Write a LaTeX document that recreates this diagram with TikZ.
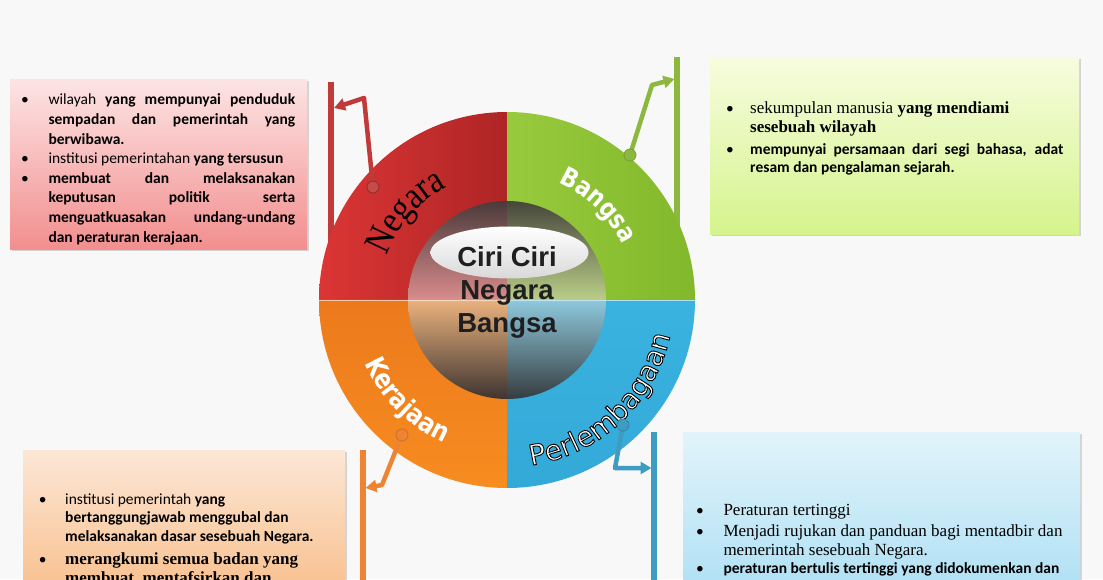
\documentclass[tikz,border=0pt]{standalone}
\usepackage{fontspec}
\setmainfont{Liberation Serif}
\newfontfamily\calfont{Carlito}
\newfontfamily\tnrfont{Liberation Serif}
\newfontfamily\tnrcond[FakeStretch=0.85]{Liberation Serif}
\newfontfamily\arlfont{Liberation Sans}
\newfontfamily\verfont{DejaVu Sans}
\newfontfamily\vercond[FakeStretch=0.85]{DejaVu Sans}
\usetikzlibrary{decorations.text, arrows.meta, shadows, calc}

\definecolor{bgc}{HTML}{F8F8F8}
\definecolor{redA}{HTML}{DC3535}
\definecolor{redB}{HTML}{AE2525}
\definecolor{grnA}{HTML}{98CA3D}
\definecolor{grnB}{HTML}{82B82B}
\definecolor{orgA}{HTML}{EC7A1C}
\definecolor{orgB}{HTML}{F78C20}
\definecolor{bluA}{HTML}{3AB3E0}
\definecolor{bluB}{HTML}{33A9D8}
\definecolor{ngc}{HTML}{C03A3A}
\definecolor{bgcn}{HTML}{8DB840}
\definecolor{krc}{HTML}{EE8433}
\definecolor{plc}{HTML}{3D9CC2}
\definecolor{tlTop}{HTML}{4A3A3A}\definecolor{tlMid}{HTML}{B46E6E}\definecolor{tlBot}{HTML}{DA8C8C}
\definecolor{trTop}{HTML}{46463A}\definecolor{trMid}{HTML}{9CB070}\definecolor{trBot}{HTML}{BACE88}
\definecolor{blTop}{HTML}{EAB27E}\definecolor{blMid}{HTML}{BC9272}\definecolor{blBot}{HTML}{3E3430}
\definecolor{brTop}{HTML}{8EC9DD}\definecolor{brMid}{HTML}{70A0B0}\definecolor{brBot}{HTML}{363C40}
\definecolor{rbTop}{HTML}{FDE4E4}\definecolor{rbBot}{HTML}{F28E8E}
\definecolor{gbTop}{HTML}{F7FCDE}\definecolor{gbBot}{HTML}{D5F48C}
\definecolor{obTop}{HTML}{FCE7D6}\definecolor{obBot}{HTML}{F8BE8A}
\definecolor{pbTop}{HTML}{E2F4FA}\definecolor{pbBot}{HTML}{ACDFF4}

\newcommand\calsz{\calfont\fontsize{15.5}{19}\selectfont}
\newcommand\tnrsz{\tnrfont\fontsize{17}{19}\selectfont}
\newcommand\jl[2]{\makebox[#1][s]{#2}}
\newcommand\negfont{\tnrcond\fontsize{38}{38}\selectfont\color{black}}
\newcommand\bgsfont{\vercond\bfseries\fontsize{26}{26}\selectfont\color{white}}
\newcommand\krjfont{\vercond\bfseries\fontsize{27}{27}\selectfont\color{white}}
\newcommand\perfont{\verfont\fontsize{28}{28}\selectfont\color{white}\special{pdf:literal direct 0 G 2 Tr 0.9 w}}

\tikzset{
  ln/.style={anchor=base west, inner sep=0pt},
  bl/.style={anchor=base, inner sep=0pt, font=\calsz},
  infobox/.style={drop shadow={opacity=0.3, shadow xshift=1.5pt, shadow yshift=-1.5pt}},
  conn/.style={line width=4.5pt, line join=round, -{Triangle[length=11pt,width=12pt]}},
  bar/.style={line width=5.5pt},
  dotc/.style={circle, minimum size=12pt, inner sep=0pt, line width=0.8pt},
}

\begin{document}
\begin{tikzpicture}[x=1pt,y=1pt]
\useasboundingbox (0,0) rectangle (1103,579);
\clip (0,0) rectangle (1103,579);
\fill[bgc] (0,0) rectangle (1103,579);
\coordinate (C) at (507,279);

% ---------- boxes ----------
\shade[infobox, top color=rbTop, bottom color=rbBot] (10,329) rectangle (307,499);
\shade[infobox, top color=gbTop, bottom color=gbBot] (710,344) rectangle (1079,521);
\shade[infobox, top color=obTop, bottom color=obBot] (23,-20) rectangle (345,129);
\shade[infobox, top color=pbTop, bottom color=pbBot] (683,-20) rectangle (1080,147);

% ---------- bars ----------
\coordinate (ngbt) at (331,497); \coordinate (ngbb) at (331,329);
\coordinate (bgbt) at (677,522); \coordinate (bgbb) at (677,344);
\coordinate (krbt) at (363,129); \coordinate (krbb) at (363,-5);
\coordinate (plbt) at (654,147); \coordinate (plbb) at (654,-5);
\draw[bar, ngc] (ngbt) -- (ngbb);
\draw[bar, bgcn] (bgbt) -- (bgbb);
\draw[bar, krc] (krbt) -- (krbb);
\draw[bar, plc] (plbt) -- (plbb);

% ---------- outer ring ----------
\shade[left color=redA, right color=redB] (C) -- ([shift={(180:188pt)}]C) arc[start angle=180, end angle=90, radius=188pt] -- cycle;
\shade[left color=grnA, right color=grnB] (C) -- ([shift={(90:188pt)}]C) arc[start angle=90, end angle=0, radius=188pt] -- cycle;
\shade[top color=orgA, bottom color=orgB] (C) -- ([shift={(180:188pt)}]C) arc[start angle=180, end angle=270, radius=188pt] -- cycle;
\shade[top color=bluA, bottom color=bluB] (C) -- ([shift={(270:188pt)}]C) arc[start angle=270, end angle=360, radius=188pt] -- cycle;
\draw[white, opacity=0.6, line width=0.8pt] ([shift={(180:188pt)}]C) -- ([shift={(0:188pt)}]C);

% ---------- inner circle ----------
\shade[top color=tlTop, middle color=tlMid, bottom color=tlBot] (C) -- ([shift={(180:99pt)}]C) arc[start angle=180, end angle=90, radius=99pt] -- cycle;
\shade[top color=trTop, middle color=trMid, bottom color=trBot] (C) -- ([shift={(90:99pt)}]C) arc[start angle=90, end angle=0, radius=99pt] -- cycle;
\shade[top color=blTop, middle color=blMid, bottom color=blBot] (C) -- ([shift={(180:99pt)}]C) arc[start angle=180, end angle=270, radius=99pt] -- cycle;
\shade[top color=brTop, middle color=brMid, bottom color=brBot] (C) -- ([shift={(270:99pt)}]C) arc[start angle=270, end angle=360, radius=99pt] -- cycle;
\draw[white, opacity=0.5, line width=0.8pt] ([shift={(180:99pt)}]C) -- ([shift={(0:99pt)}]C);
\shade[top color=white, bottom color=black!15] (509.5,326.5) ellipse [x radius=79pt, y radius=26pt];

% ---------- centre title ----------
\node[anchor=base, inner sep=0pt, font=\arlfont\bfseries\fontsize{27.5}{33}\selectfont, text=black!88] (t1) at (507,312.3) {Ciri Ciri};
\node[anchor=base, inner sep=0pt, font=\arlfont\bfseries\fontsize{27.5}{33}\selectfont, text=black!88] (t2) at (507,279.7) {Negara};
\node[anchor=base, inner sep=0pt, font=\arlfont\bfseries\fontsize{27.5}{33}\selectfont, text=black!88] (t3) at (507,246.3) {Bangsa};

% ---------- curved labels ----------
\path[decorate, decoration={text along path, text align=center, text={|\negfont|Negara}}]
  ([shift={(171:128pt)}]C) arc[start angle=171, end angle=107, radius=128pt];
\path[decorate, decoration={text along path, text align=center, text={|\bgsfont|Bangsa}}]
  ([shift={(92:128pt)}]C) arc[start angle=92, end angle=0, radius=128pt];
\path[decorate, decoration={text along path, text align=center, text={|\krjfont|Kerajaan}}]
  ([shift={(180:156pt)}]C) arc[start angle=180, end angle=270, radius=156pt];
\path[decorate, decoration={text along path, text align=center, text={|\perfont|Perlembagaan}}]
  ([shift={(250:167pt)}]C) arc[start angle=250, end angle=376, radius=167pt];

% ---------- connectors ----------
\coordinate (ngd) at (373,392);
\coordinate (ngbend) at (364,481);
\coordinate (ngtip) at (334,471);
\draw[conn, ngc] (ngd) -- (ngbend) -- (ngtip);
\node[dotc, fill=ngc!92!white, draw=ngc!75!black] (ngdot) at (ngd) {};

\coordinate (bgd) at (630,424);
\coordinate (bgbend) at (652,494);
\coordinate (bgtip) at (674.5,500);
\draw[conn, bgcn] (bgd) -- (bgbend) -- (bgtip);
\node[dotc, fill=bgcn, draw=bgcn!85!black] (bgdot) at (bgd) {};

\coordinate (krd) at (402,144);
\coordinate (krbend) at (382,94);
\coordinate (krtip) at (365.5,91);
\draw[conn, krc] (krd) -- (krbend) -- (krtip);
\node[dotc, fill=krc, draw=krc!85!black] (krdot) at (krd) {};

\coordinate (pld) at (623,154);
\coordinate (plbend) at (615,111);
\coordinate (pltip) at (651.5,111);
\draw[conn, plc] (pld) -- (plbend) -- (pltip);
\node[dotc, fill=plc, draw=plc!85!black] (pldot) at (pld) {};

% ---------- red box text ----------
\begin{scope}[every node/.append style={font=\calsz, text=black}]
\node[bl] (rb1) at (25,474) {•};
\node[ln] (r1) at (48.3,474) {\jl{246.7pt}{wilayah \textbf{yang mempunyai penduduk}}};
\node[ln] (r2) at (48.3,454.4) {\jl{246.7pt}{\textbf{sempadan dan pemerintah yang}}};
\node[ln] (r3) at (48.3,434.8) {\textbf{berwibawa.}};
\node[bl] (rb2) at (25,415.2) {•};
\node[ln] (r4) at (48.3,415.2) {institusi pemerintahan \textbf{yang tersusun}};
\node[bl] (rb3) at (25,395.6) {•};
\node[ln] (r5) at (48.3,395.6) {\jl{246.7pt}{\textbf{membuat dan melaksanakan}}};
\node[ln] (r6) at (48.3,376) {\jl{246.7pt}{\textbf{keputusan politik serta}}};
\node[ln] (r7) at (48.3,356.4) {\jl{246.7pt}{\textbf{menguatkuasakan undang-undang}}};
\node[ln] (r8) at (48.3,336.8) {\textbf{dan peraturan kerajaan.}};
\end{scope}

% ---------- green box text ----------
\node[bl] (gb1) at (730,465) {•};
\node[ln, font=\tnrsz] (g1) at (750,465) {sekumpulan manusia \textbf{yang mendiami}};
\node[ln, font=\tnrsz] (g2) at (750,446.3) {\textbf{sesebuah wilayah}};
\node[bl] (gb2) at (730,424) {•};
\node[ln, font=\calsz] (g3) at (750,424) {\jl{313.3pt}{\textbf{mempunyai persamaan dari segi bahasa, adat}}};
\node[ln, font=\calsz] (g4) at (750,406.3) {\textbf{resam dan pengalaman sejarah.}};

% ---------- orange box text ----------
\node[bl] (ob1) at (42.7,75) {•};
\node[ln, font=\calsz] (o1) at (65,75) {institusi pemerintah \textbf{yang}};
\node[ln, font=\calsz] (o2) at (65,56.3) {\textbf{bertanggungjawab menggubal dan}};
\node[ln, font=\calsz] (o3) at (65,37.3) {\textbf{melaksanakan dasar sesebuah Negara.}};
\node[bl] (ob2) at (42.7,15) {•};
\node[ln, font=\tnrsz] (o4) at (65,15) {\textbf{merangkumi semua badan yang}};
\node[ln, font=\tnrsz] (o5) at (65,-4) {\textbf{membuat, mentafsirkan dan}};

% ---------- blue box text ----------
\node[bl] (pb1) at (700,64) {•};
\node[ln, font=\tnrsz] (p1) at (723.3,64) {Peraturan tertinggi};
\node[bl] (pb2) at (700,42.3) {•};
\node[ln, font=\tnrsz] (p2) at (723.3,42.3) {Menjadi rujukan dan panduan bagi mentadbir dan};
\node[ln, font=\tnrsz] (p3) at (723.3,24) {memerintah sesebuah Negara.};
\node[bl] (pb3) at (700,6) {•};
\node[ln, font=\calsz] (p4) at (723.3,6) {\textbf{peraturan bertulis tertinggi yang didokumenkan dan}};
\end{tikzpicture}
\end{document}
